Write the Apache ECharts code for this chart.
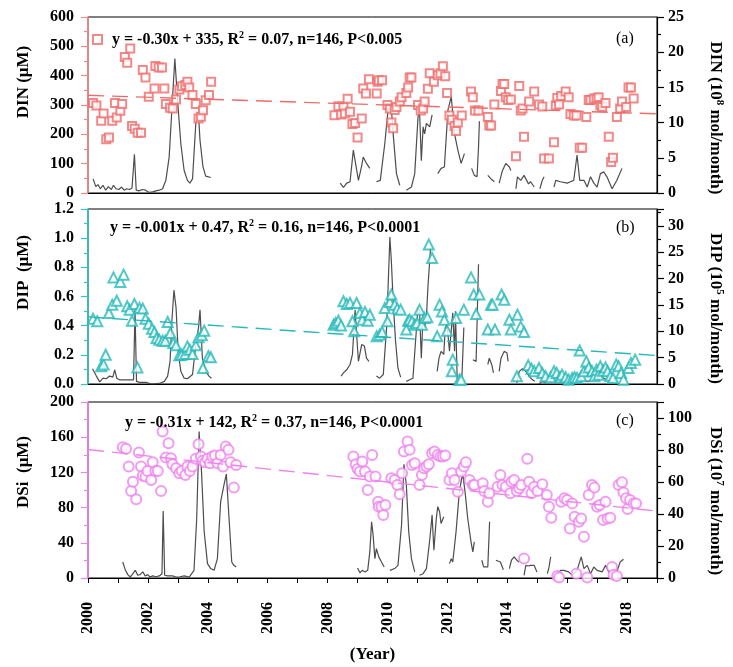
<!DOCTYPE html>
<html>
<head>
<meta charset="utf-8">
<script src="https://cdn.jsdelivr.net/npm/echarts@6/dist/echarts.min.js"></script>
<style>html,body{margin:0;padding:0;background:#fff;}#chart{width:733px;height:667px;}</style>
</head>
<body>
<div id="chart"></div>
<script>
// ---------------- DATA ----------------
// Concentrations: [year, value] on left axis
const dinConc = [[2000.17,307],[2000.28,298],[2000.44,246],[2000.52,271],[2000.61,183],[2000.70,189],[2000.81,246],[2000.90,307],[2000.96,257],[2001.08,280],[2001.14,303],[2001.23,464],[2001.31,444],[2001.41,493],[2001.47,228],[2001.56,219],[2001.66,205],[2001.77,205],[2001.83,419],[2001.92,394],[2002.03,328],[2002.22,356],[2002.25,433],[2002.36,428],[2002.47,428],[2002.55,356],[2002.60,303],[2002.74,291],[2002.83,288],[2002.94,319],[2003.05,353],[2003.14,364],[2003.25,368],[2003.32,379],[2003.38,360],[2003.49,334],[2003.60,303],[2003.69,254],[2003.77,260],[2003.84,282],[2003.93,316],[2004.04,334],[2004.11,379],
[2008.23,265],[2008.36,296],[2008.45,268],[2008.53,294],[2008.58,271],[2008.67,321],[2008.75,277],[2008.83,235],[2008.92,239],[2009.00,189],[2009.14,254],[2009.19,356],[2009.28,339],[2009.38,388],[2009.64,339],[2009.67,379],
[2009.71,384],[2009.82,384],[2010.00,300],[2010.08,288],[2010.13,240],[2010.19,221],[2010.24,283],[2010.30,293],[2010.41,312],[2010.47,326],[2010.63,341],[2010.69,360],[2010.74,394],[2010.80,394],[2011.02,300],[2011.11,281],[2011.19,288],[2011.24,312],[2011.35,355],[2011.41,408],[2011.55,379],[2011.68,401],[2011.77,408],[2011.85,432],[2011.93,398],[2011.99,341],[2012.07,264],[2012.15,250],[2012.24,228],[2012.29,211],[2012.35,240],[2012.48,264],[2012.79,346],[2012.85,326],[2012.92,281],[2013.04,281],[2013.35,259],[2013.40,230],[2013.46,230],[2013.57,302],[2013.79,348],[2013.84,372],[2013.90,372],[2013.95,326],[2014.03,317],[2014.12,319],[2014.29,125],[2014.40,365],[2014.45,281],[2014.51,288],[2014.56,192],[2014.73,312],[2014.90,346],[2015.06,302],[2015.17,295],[2015.23,118],[2015.39,118],[2015.56,173],[2015.62,298],[2015.67,324],[2015.73,302],[2015.80,331],[2015.95,346],[2016.05,326],[2016.11,269],[2016.22,264],[2016.31,264],[2016.42,154],[2016.50,154],[2016.64,259],[2016.72,317],[2016.78,317],[2016.89,322],[2016.98,322],[2017.05,326],[2017.11,298],[2017.17,293],[2017.28,307],[2017.39,192],[2017.47,106],[2017.53,120],[2017.66,259],[2017.77,288],[2017.83,312],[2017.97,293],[2018.05,360],[2018.13,360],[2018.22,322]];

const dipConc = [[2000.17,0.448],[2000.31,0.43],[2000.44,0.121],[2000.52,0.133],[2000.59,0.201],[2000.70,0.487],[2000.81,0.544],[2000.85,0.731],[2000.96,0.571],[2001.08,0.70],[2001.19,0.75],[2001.31,0.533],[2001.39,0.51],[2001.47,0.434],[2001.55,0.549],[2001.65,0.114],[2001.72,0.521],[2001.83,0.517],[2001.92,0.448],[2002.03,0.414],[2002.14,0.379],[2002.22,0.357],[2002.29,0.315],[2002.38,0.304],[2002.49,0.297],[2002.58,0.297],[2002.66,0.425],[2002.75,0.35],[2002.85,0.281],[2002.94,0.265],[2003.05,0.197],[2003.13,0.201],[2003.25,0.206],[2003.32,0.258],[2003.40,0.235],[2003.49,0.206],[2003.60,0.265],[2003.69,0.32],[2003.80,0.334],[2003.84,0.11],[2003.88,0.366],[2004.02,0.19],[2004.10,0.183],
[2008.20,0.407],[2008.27,0.418],[2008.36,0.434],[2008.45,0.402],[2008.53,0.567],[2008.64,0.549],[2008.75,0.555],[2008.83,0.43],[2008.89,0.361],[2008.97,0.555],[2009.08,0.487],[2009.16,0.441],[2009.25,0.494],[2009.34,0.434],[2009.41,0.475],[2009.64,0.327],
[2009.74,0.338],[2009.82,0.357],[2009.91,0.521],[2010.00,0.43],[2010.08,0.562],[2010.13,0.613],[2010.24,0.544],[2010.33,0.517],[2010.44,0.51],[2010.63,0.373],[2010.69,0.434],[2010.74,0.441],[2010.82,0.43],[2010.91,0.407],[2010.99,0.418],[2011.07,0.51],[2011.15,0.407],[2011.24,0.453],[2011.33,0.457],[2011.38,0.956],[2011.49,0.864],[2011.66,0.327],[2011.74,0.544],[2011.82,0.498],[2011.90,0.441],[2011.99,0.366],[2012.15,0.087],[2012.18,0.167],[2012.29,0.453],[2012.40,0.03],[2012.46,0.03],[2012.55,0.51],[2012.79,0.731],[2012.88,0.613],[2012.96,0.48],[2013.07,0.613],[2013.35,0.373],[2013.46,0.544],[2013.51,0.544],[2013.59,0.373],[2013.81,0.613],[2013.90,0.578],[2014.07,0.441],[2014.12,0.373],[2014.32,0.053],[2014.34,0.475],[2014.45,0.395],[2014.56,0.357],[2014.70,0.128],[2014.81,0.105],[2014.90,0.087],[2015.06,0.11],[2015.17,0.075],[2015.28,0.053],[2015.45,0.046],[2015.56,0.087],[2015.65,0.075],[2015.76,0.046],[2015.83,0.064],[2015.95,0.046],[2016.05,0.03],[2016.17,0.041],[2016.25,0.046],[2016.33,0.041],[2016.42,0.229],[2016.47,0.053],[2016.56,0.087],[2016.64,0.155],[2016.72,0.114],[2016.83,0.087],[2016.91,0.053],[2016.98,0.098],[2017.05,0.064],[2017.11,0.121],[2017.20,0.091],[2017.28,0.114],[2017.35,0.087],[2017.44,0.053],[2017.53,0.041],[2017.64,0.133],[2017.72,0.121],[2017.80,0.075],[2017.88,0.03],[2018.05,0.11],[2018.13,0.144],[2018.27,0.167]];

const dsiConc = [[2001.16,148.7],[2001.27,146.8],[2001.36,126.6],[2001.44,98.9],[2001.50,109.5],[2001.61,89.4],[2001.70,142.6],[2001.77,126.6],[2001.83,116.3],[2001.92,115.2],[2001.99,121.7],[2002.11,111.4],[2002.16,131.6],[2002.25,121.7],[2002.33,121.7],[2002.44,98.9],[2002.49,166.5],[2002.60,136.9],[2002.69,153.2],[2002.77,136.1],[2002.82,129.3],[2002.94,124.7],[2003.05,119.0],[2003.13,121.7],[2003.25,117.1],[2003.32,126.6],[2003.40,121.7],[2003.49,126.6],[2003.60,135.4],[2003.69,152.1],[2003.77,138.0],[2003.82,133.1],[2003.91,131.6],[2003.99,135.4],[2004.07,130.4],[2004.15,138.0],[2004.24,139.2],[2004.32,130.4],[2004.43,139.9],[2004.51,126.6],[2004.60,149.4],[2004.69,145.6],[2004.76,131.6],[2004.87,102.7],[2004.95,128.5],
[2008.86,138.0],[2008.94,129.3],[2009.00,124.0],[2009.08,120.9],[2009.16,132.3],[2009.25,120.9],[2009.34,100.0],[2009.41,115.2],[2009.49,139.9],[2009.60,115.2],[2009.69,86.7],
[2009.71,81.0],[2009.80,81.0],[2009.86,71.5],[2009.93,82.9],[2010.13,113.3],[2010.24,111.4],[2010.33,105.7],[2010.41,95.1],[2010.49,119.0],[2010.55,143.7],[2010.67,155.1],[2010.74,145.6],[2010.82,128.5],[2010.91,130.4],[2011.07,105.7],[2011.15,117.1],[2011.22,124.7],[2011.30,126.6],[2011.38,129.3],[2011.49,141.8],[2011.57,143.7],[2011.68,139.9],[2011.77,138.0],[2011.85,138.0],[2011.93,139.2],[2012.07,111.4],[2012.15,119.0],[2012.24,111.4],[2012.35,98.1],[2012.46,120.9],[2012.55,126.6],[2012.62,131.6],[2012.74,111.4],[2012.85,105.7],[2012.90,105.7],[2013.18,107.6],[2013.23,98.9],[2013.35,86.7],[2013.40,96.2],[2013.68,103.8],[2013.77,117.1],[2013.84,105.7],[2013.95,103.8],[2014.10,96.2],[2014.14,109.5],[2014.23,111.4],[2014.32,98.9],[2014.40,101.9],[2014.47,105.7],[2014.56,22.1],[2014.67,135.4],[2014.73,109.5],[2014.81,96.2],[2014.90,103.8],[2015.01,98.9],[2015.17,106.5],[2015.32,94.3],[2015.39,81.0],[2015.47,68.4],[2015.67,2.3],[2015.73,0.5],[2015.80,86.7],[2015.91,90.5],[2016.00,88.6],[2016.09,56.3],[2016.17,84.8],[2016.25,69.6],[2016.31,4.9],[2016.39,63.9],[2016.47,67.7],[2016.56,46.8],[2016.67,0.5],[2016.72,94.3],[2016.83,105.7],[2016.91,102.7],[2017.00,81.0],[2017.09,82.9],[2017.20,65.8],[2017.28,86.7],[2017.35,67.7],[2017.44,68.4],[2017.50,12.5],[2017.55,3.8],[2017.66,2.3],[2017.72,105.7],[2017.83,108.7],[2017.88,97.3],[2017.97,90.5],[2018.02,78.3],[2018.10,88.6],[2018.22,84.8],[2018.30,84.8]];

// Monthly fluxes on right axis, as continuous segments (gaps between them)
const dinFlux = [
 [[2000.17,2.0],[2000.26,0.9],[2000.33,1.2],[2000.41,0.6],[2000.50,1.1],[2000.59,0.4],[2000.68,0.9],[2000.78,0.5],[2000.85,1.1],[2000.94,0.6],[2001.03,0.5],[2001.12,0.85],[2001.21,0.4],[2001.30,0.6],[2001.39,0.5],[2001.47,0.7],[2001.55,5.5],[2001.61,0.4],[2001.70,0.3],[2001.81,0.5],[2001.92,0.4],[2002.03,0.1],[2002.16,0.15],[2002.27,0.3],[2002.38,0.4],[2002.49,0.6],[2002.60,1.8],[2002.71,5.1],[2002.80,11.8],[2002.90,19.1],[2002.99,13.2],[2003.10,7.0],[2003.21,3.2],[2003.32,1.8],[2003.40,1.4],[2003.49,2.0],[2003.60,9.9],[2003.69,11.1],[2003.74,7.5],[2003.84,3.7],[2003.93,2.4],[2004.10,2.2]],
 [[2008.42,1.4],[2008.53,0.8],[2008.64,1.4],[2008.75,1.6],[2008.86,6.1],[2008.92,6.1],[2009.03,1.8],[2009.14,3.9],[2009.19,5.1],[2009.30,4.2],[2009.41,3.5]],
 [[2009.63,1.6],[2009.76,1.8],[2009.91,7.0],[2010.02,11.8],[2010.13,12.0],[2010.19,8.4],[2010.30,2.75],[2010.41,1.1]],
 [[2010.63,0.4],[2010.80,0.85],[2010.91,2.75],[2011.02,10.8],[2011.07,11.8],[2011.13,4.6],[2011.19,9.4],[2011.24,8.4],[2011.30,9.9],[2011.41,9.4],[2011.49,11.1]],
 [[2011.68,2.75],[2011.79,3.5],[2011.90,3.7],[2012.02,11.8],[2012.13,13.7],[2012.24,8.4],[2012.35,6.1],[2012.46,4.2],[2012.57,5.6]],
 [[2012.81,3.5],[2012.90,2.5],[2012.99,2.3],[2013.04,6.5],[2013.07,10.2]],
 [[2013.35,2.5],[2013.46,2.0],[2013.57,1.6]],
 [[2013.73,1.4],[2013.84,3.2],[2013.95,4.2],[2014.07,3.7],[2014.12,3.2]],
 [[2014.29,0.6],[2014.34,2.3],[2014.45,1.8],[2014.56,2.5],[2014.71,1.3],[2014.78,1.6],[2014.90,0.85]],
 [[2015.09,0.6],[2015.17,1.8],[2015.23,2.3]],
 [[2015.56,0.85],[2015.62,1.8],[2015.78,1.6],[2016.00,1.4],[2016.11,1.6],[2016.22,1.8],[2016.33,5.4],[2016.42,1.8],[2016.56,1.8],[2016.67,0.85],[2016.78,2.3],[2016.89,1.4],[2017.00,0.85],[2017.11,2.75],[2017.22,3.0],[2017.33,2.3],[2017.50,0.6],[2017.66,1.8],[2017.83,3.5]]
];

const dipFlux = [
 [[2000.15,2.9],[2000.28,1.5],[2000.39,0.4],[2000.50,1.1],[2000.61,1.0],[2000.72,1.5],[2000.83,1.3],[2000.89,2.7],[2000.96,1.1],[2001.05,0.8],[2001.27,0.8],[2001.44,0.8],[2001.52,0.8],[2001.57,14.1],[2001.62,0.5],[2001.72,0.3],[2001.94,0.3],[2002.11,0.0],[2002.38,0.1],[2002.55,0.5],[2002.66,1.5],[2002.74,4.3],[2002.80,11.9],[2002.87,17.8],[2002.94,14.5],[2003.01,6.2],[2003.10,2.4],[2003.21,1.1],[2003.32,1.0],[2003.49,1.8],[2003.60,7.5],[2003.69,10.7],[2003.74,14.1],[2003.82,4.9],[2003.93,2.4],[2004.04,1.5],[2004.12,1.1]],
 [[2008.45,1.5],[2008.53,2.1],[2008.64,2.7],[2008.75,3.7],[2008.83,5.6],[2008.92,14.1],[2008.97,9.4],[2009.03,4.3],[2009.14,7.5],[2009.23,7.2],[2009.30,4.9],[2009.38,4.3]],
 [[2009.63,1.5],[2009.74,1.1],[2009.86,1.8],[2009.97,10.7],[2010.02,18.3],[2010.08,27.9],[2010.13,23.3],[2010.19,15.7],[2010.27,8.1],[2010.35,3.0],[2010.44,1.3]],
 [[2010.63,0.5],[2010.74,0.8],[2010.85,1.1],[2010.93,7.5],[2011.02,14.5],[2011.07,14.1],[2011.13,4.9],[2011.19,13.2],[2011.24,10.7],[2011.30,12.6],[2011.35,18.3],[2011.44,25.9]],
 [[2011.66,2.4],[2011.72,4.9],[2011.79,6.2],[2011.88,5.6],[2011.93,10.7],[2011.99,11.3],[2012.07,6.2],[2012.18,13.5],[2012.24,6.2],[2012.27,13.8],[2012.33,0.5],[2012.40,0.5],[2012.48,0.5],[2012.55,10.7]],
 [[2012.85,4.6],[2012.96,4.3],[2013.04,22.7]],
 [[2013.35,3.7],[2013.40,4.9],[2013.48,3.7],[2013.54,2.1]],
 [[2013.73,2.4],[2013.79,4.9],[2013.90,6.2],[2013.99,5.9],[2014.03,4.3]],
 [[2014.32,0.2],[2014.40,2.4],[2014.51,2.9],[2014.62,2.4],[2014.73,1.5],[2014.84,0.8],[2014.92,0.5]],
 [[2015.06,0.0],[2015.17,0.5],[2015.28,0.2]],
 [[2015.56,0.5],[2015.67,0.8],[2015.89,0.5],[2016.11,0.4],[2016.28,0.8],[2016.39,1.8],[2016.47,0.8],[2016.67,0.5],[2016.89,0.8],[2017.11,1.5],[2017.22,1.1],[2017.44,0.5],[2017.55,0.3]]
];

const dsiFlux = [
 [[2001.16,10.0],[2001.25,4.8],[2001.33,2.1],[2001.41,0.6],[2001.50,2.7],[2001.58,4.8],[2001.66,1.7],[2001.74,2.1],[2001.83,3.8],[2001.91,1.3],[2001.99,2.1],[2002.07,0.6],[2002.16,1.3],[2002.27,0.8],[2002.38,1.3],[2002.47,2.7],[2002.51,41.8],[2002.56,1.7],[2002.66,1.3],[2002.82,1.3],[2002.94,0.6],[2003.05,0.6],[2003.21,1.3],[2003.38,0.6],[2003.54,4.8],[2003.63,37.2],[2003.71,91.6],[2003.79,66.5],[2003.88,28.9],[2003.99,9.0],[2004.10,5.9],[2004.21,4.8],[2004.32,12.1],[2004.43,47.7],[2004.54,58.2],[2004.62,64.9],[2004.71,37.2],[2004.80,10.0],[2004.87,7.9],[2004.95,6.9]],
 [[2009.00,6.3],[2009.08,3.3],[2009.16,4.8],[2009.25,3.8],[2009.34,4.8],[2009.41,16.3],[2009.47,35.1],[2009.52,26.8],[2009.58,12.1],[2009.63,18.4],[2009.71,13.2],[2009.80,10.0],[2009.89,6.9]],
 [[2010.08,4.8],[2010.24,5.9],[2010.35,7.9],[2010.47,33.1],[2010.55,71.1],[2010.63,58.2],[2010.71,28.9],[2010.80,12.1],[2010.91,3.8]],
 [[2011.07,1.7],[2011.19,2.7],[2011.30,5.9],[2011.41,23.6],[2011.49,39.3],[2011.55,17.4],[2011.63,37.2],[2011.68,44.6],[2011.74,41.4],[2011.79,34.1],[2011.88,38.3]],
 [[2012.07,9.0],[2012.13,12.1],[2012.18,10.0],[2012.29,28.9],[2012.40,54.0],[2012.51,65.5],[2012.59,54.0],[2012.68,37.2],[2012.79,22.6],[2012.85,16.3],[2012.90,22.6]],
 [[2013.15,11.1],[2013.21,6.9],[2013.35,6.9],[2013.41,35.1]],
 [[2013.62,11.1],[2013.77,10.0],[2013.87,5.2]],
 [[2014.07,5.9],[2014.14,11.1],[2014.23,13.2],[2014.32,11.1],[2014.40,10.0]],
 [[2014.56,1.7],[2014.62,7.9],[2014.70,7.5],[2014.78,7.9],[2014.90,7.9],[2014.99,3.8]],
 [[2015.34,2.7],[2015.39,6.3],[2015.45,13.2]],
 [[2015.67,2.7],[2015.78,4.8],[2015.89,4.8],[2016.05,3.8],[2016.17,1.7],[2016.33,4.8],[2016.47,13.2],[2016.56,5.9],[2016.67,7.9],[2016.78,2.7],[2016.89,6.9],[2017.00,4.8],[2017.17,3.8],[2017.28,7.9],[2017.39,3.8],[2017.55,2.7],[2017.66,3.8],[2017.77,10.0],[2017.88,11.7]]
];

// Linear trend lines (left axis), endpoints
const dinTrend = [[2000, 333], [2019, 270]];
const dipTrend = [[2000, 0.46], [2019, 0.195]];
const dsiTrend = [[2000, 146], [2019, 76]];

// Text
const seriesNames = ['DIN', 'DIP', 'DSi'];
const leftNames = ['DIN (μM)', 'DIP  (μM)', 'DSi  (μM)'];
const rightExp = ['8', '5', '7'];
const equations = [
  ['y = -0.30x + 335, R', '2', ' = 0.07, n=146, P<0.005'],
  ['y = -0.001x + 0.47, R', '2', ' = 0.16, n=146, P<0.0001'],
  ['y = -0.31x + 142, R', '2', ' = 0.37, n=146, P<0.0001']
];
const panelLetters = ['(a)', '(b)', '(c)'];
const xLabelName = '(Year)';

// ---------------- LAYOUT / STYLE ----------------
const FONT = '"Liberation Serif", "Times New Roman", serif';
const panels = [
  {top: 17, height: 176, color: '#ef6b6b', axisColor: '#f08a8a', symbol: 'emptyRect', size: 8,
   lMax: 600, lInt: 100, rMax: 25, rInt: 5, lFmt: v => String(v), eqLeft: 112, eqTop: 30, letTop: 31,
   lShift: 46, rShift: 26, conc: dinConc, flux: dinFlux, trend: dinTrend},
  {top: 209, height: 175, color: '#25b9b9', axisColor: '#35c4c4', symbol: 'emptyTriangle', size: 10,
   lMax: 1.2, lInt: 0.2, rMax: 33.2, rInt: 5, lFmt: v => v.toFixed(1), eqLeft: 110, eqTop: 218, letTop: 220,
   lShift: 48, rShift: 24, conc: dipConc, flux: dipFlux, trend: dipTrend},
  {top: 402, height: 176, color: '#ee82ee', axisColor: '#ee82ee', symbol: 'emptyCircle', size: 10,
   lMax: 200, lInt: 40, rMax: 110, rInt: 20, lFmt: v => String(v), eqLeft: 125, eqTop: 413, letTop: 413,
   lShift: 36, rShift: 22, conc: dsiConc, flux: dsiFlux, trend: dsiTrend}
];

function joinSegments(segs) {
  const out = [];
  segs.forEach((s, i) => {
    if (i) out.push([s[0][0] - 0.005, '-']);
    s.forEach(p => out.push(p));
  });
  return out;
}

const boldText = {fontFamily: FONT, fontWeight: 'bold', color: '#000'};

const option = {
  animation: false,
  backgroundColor: '#fff',
  grid: panels.map(p => ({left: 88, right: 73, top: p.top, height: p.height, show: true,
    borderColor: '#000', borderWidth: 1, backgroundColor: 'transparent'})),
  legend: {
    left: 92, top: 34, itemWidth: 9, itemHeight: 9, padding: 0,
    data: [seriesNames[0]], formatter: () => '', selectedMode: false,
    textStyle: {fontSize: 1}
  },
  title: panels.flatMap((p, i) => [
    {left: p.eqLeft, top: p.eqTop, padding: 0,
     text: '{b|' + equations[i][0] + '}{s|' + equations[i][1] + '}{b|' + equations[i][2] + '}',
     textStyle: {rich: {
       b: {fontFamily: FONT, fontWeight: 'bold', fontSize: 16, color: '#000', lineHeight: 20},
       s: {fontFamily: FONT, fontWeight: 'bold', fontSize: 10, color: '#000', lineHeight: 20, verticalAlign: 'top'}
     }}},
    {left: 616, top: p.letTop, padding: 0, text: panelLetters[i],
     textStyle: {fontFamily: FONT, fontWeight: 'normal', fontSize: 16, color: '#000'}}
  ]),
  xAxis: panels.map((p, i) => ({
    type: 'value', gridIndex: i, min: 2000, max: 2019, interval: 1,
    axisLine: {show: true, lineStyle: {color: '#000', width: 1.2}},
    axisTick: {show: i === 2, length: 5, lineStyle: {color: '#000'}},
    axisLabel: {show: i === 2, rotate: 90, margin: 24, fontSize: 16, ...boldText,
      formatter: v => (v % 2 === 0 ? String(v) : '')},
    splitLine: {show: false},
    name: i === 2 ? xLabelName : '', nameLocation: 'middle', nameGap: 68,
    nameTextStyle: {fontSize: 17, ...boldText}
  })),
  yAxis: panels.flatMap((p, i) => [
    {type: 'value', gridIndex: i, position: 'left', min: 0, max: p.lMax, interval: p.lInt,
     axisLine: {show: true, lineStyle: {color: p.axisColor, width: 1.6}},
     axisTick: {show: true, length: 7, lineStyle: {color: p.axisColor, width: 1.2}},
     minorTick: {show: true, splitNumber: 2, length: 4, lineStyle: {color: p.axisColor, width: 1.2}},
     axisLabel: {margin: 14, fontSize: 16, ...boldText, formatter: p.lFmt},
     splitLine: {show: false},
     name: leftNames[i], nameLocation: 'middle', nameGap: 56, nameRotate: 90,
     nameTextStyle: {fontSize: 17, ...boldText, padding: [0, 0, 0, p.lShift]}},
    {type: 'value', gridIndex: i, position: 'right', min: 0, max: p.rMax, interval: p.rInt,
     axisLine: {show: true, lineStyle: {color: '#000', width: 1.2}},
     axisTick: {show: true, length: 7, lineStyle: {color: '#000', width: 1.2}},
     minorTick: {show: true, splitNumber: 2, length: 4, lineStyle: {color: '#000', width: 1.2}},
     axisLabel: {margin: 11, fontSize: 16, ...boldText, showMaxLabel: i === 0},
     splitLine: {show: false},
     name: '{t|' + seriesNames[i] + ' (10}{s|' + rightExp[i] + '}{t| mol/month)}',
     nameLocation: 'middle', nameGap: 48, nameRotate: -90,
     nameTextStyle: {padding: [0, 0, 0, p.rShift], rich: {
       t: {fontSize: 17, ...boldText, lineHeight: 20},
       s: {fontSize: 11, ...boldText, lineHeight: 20, verticalAlign: 'top'}
     }}}
  ]),
  series: panels.flatMap((p, i) => [
    {type: 'line', xAxisIndex: i, yAxisIndex: 2 * i + 1, data: joinSegments(p.flux),
     symbol: 'none', connectNulls: false, silent: true,
     lineStyle: {color: '#4d4d4d', width: 1.2}, z: 2},
    {type: 'scatter', name: seriesNames[i], xAxisIndex: i, yAxisIndex: 2 * i, data: p.conc,
     symbol: p.symbol, symbolSize: p.size, silent: true,
     itemStyle: {color: p.color, borderColor: p.color, borderWidth: 1.2}, z: 3},
    {type: 'line', xAxisIndex: i, yAxisIndex: 2 * i, data: p.trend, symbol: 'none', silent: true,
     lineStyle: {color: p.color, width: 1.4, type: [16, 8]}, z: 4}
  ])
};

const chart = echarts.init(document.getElementById('chart'), null, {renderer: 'canvas'});
chart.setOption(option);
</script>
</body>
</html>
